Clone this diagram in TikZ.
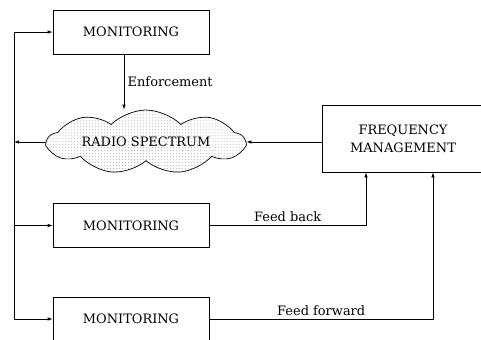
\documentclass[tikz,border=0pt]{standalone}
\usepackage{fontspec}
\setmainfont{DejaVu Serif}
\usetikzlibrary{shapes.symbols, patterns, arrows.meta}
\begin{document}
\begin{tikzpicture}[x=1bp, y=-1bp, >={Latex[length=5bp, width=3.5bp]}, line width=0.7bp,
    monbox/.style={draw, minimum width=156bp, minimum height=44bp, font=\fontsize{13}{15}\selectfont},
    lbl/.style={font=\fontsize{13}{15}\selectfont}]
    \useasboundingbox (0,0) rectangle (481,339);
    % Monitoring boxes
    \foreach \n/\y in {1/32, 2/225.5, 3/319} {
        \node[monbox] (mon\n) at (131, \y) {MONITORING};
    }
    % Spectrum and management
    \node[cloud, cloud puffs=9, cloud puff arc=90, aspect=3, draw, pattern=dots, pattern color=gray!70, minimum width=197bp, minimum height=64bp, inner sep=0pt] (spec) at (146, 142) {};
    \node[lbl] (spectxt) at (spec.center) {RADIO SPECTRUM};
    \node[draw, minimum width=162bp, minimum height=67bp, align=center, font=\fontsize{13}{18}\selectfont] (fm) at (403, 138.5) {FREQUENCY\\MANAGEMENT};
    % Left bus
    \coordinate (bustop) at (14, 32);
    \coordinate (busbot) at (14, 319);
    \draw (bustop) -- (busbot);
    \draw[->] (bustop) -- (mon1.west);
    \draw[->] (busbot |- mon2.west) -- (mon2.west);
    \draw[->] (busbot) -- (mon3.west);
    \draw[->] (spec.west) -- (spec.west -| bustop);
    \draw[->] (fm.west |- spec.east) -- (spec.east);
    % Enforcement, feed back and feed forward
    \draw[->] ([xshift=-7bp]mon1.south) -- node[right, lbl] {Enforcement} ([xshift=-7bp]mon1.south |- spec.north);
    \draw[->] (mon2.east) -| node[pos=0.25, above, lbl] {Feed back} ([xshift=-37bp]fm.south);
    \draw[->] (mon3.east) -| node[pos=0.25, above, lbl] {Feed forward} ([xshift=30bp]fm.south);
\end{tikzpicture}
\end{document}
